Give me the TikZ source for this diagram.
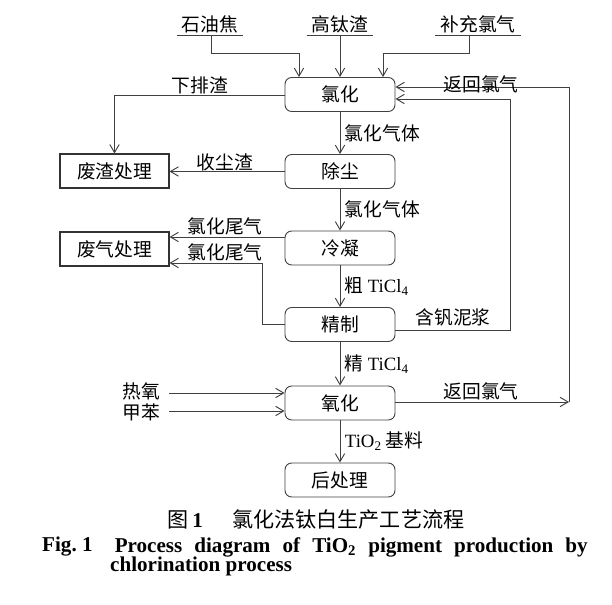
\documentclass[tikz,border=0pt]{standalone}
\usepackage{fontspec}
\setmainfont{Liberation Serif}
\newfontfamily\cjk{Noto Sans CJK SC}
\newcommand{\dazi}{\cjk\fontsize{16}{19}\selectfont}
\newcommand{\tizi}{\fontsize{18}{21}\selectfont}
\usetikzlibrary{arrows.meta,positioning,calc}
\tikzset{
  gongxu/.style={draw=black!75,line width=0.8pt,rounded corners=2mm,minimum width=33mm,
                 minimum height=10.2mm,inner sep=0pt,font=\dazi},
  chuli/.style={draw=black!80,line width=0.9pt,minimum width=32.7mm,minimum height=10.2mm,
                inner sep=0pt,font=\dazi},
  yuanliao/.style={inner xsep=1.5mm,inner ysep=0.6mm,font=\dazi},
  biaoqian/.style={inner sep=1pt,font=\dazi},
  xian/.style={draw=black!75,line width=0.8pt},
  jt/.style={xian,-{Straight Barb[length=2.4mm,width=2.8mm]}},
}

\begin{document}
\begin{tikzpicture}[x=0.3mm,y=-0.3mm]
  \useasboundingbox (0,0) rectangle (612,605);
  % raw materials
  \node[yuanliao,anchor=south] (syj) at (210,35) {石油焦};
  \node[yuanliao,anchor=south] (gtz) at (340,35) {高钛渣};
  \node[yuanliao,anchor=south] (bclq) at (478,35) {补充氯气};
  \foreach \n in {syj,gtz,bclq} \draw[xian] (\n.south west) -- (\n.south east);
  % process steps
  \node[gongxu] (lh) at (340,94.5) {氯化};
  \node[gongxu] (cc) at (340,171.5) {除尘};
  \node[gongxu] (ln) at (340,248) {冷凝};
  \node[gongxu] (jz) at (340,324.5) {精制};
  \node[gongxu] (yh) at (340,403) {氧化};
  \node[gongxu] (hcl) at (340,480) {后处理};
  \node[chuli] (fz) at (114.5,171) {废渣处理};
  \node[chuli] (fq) at (114.5,249) {废气处理};
  % feeds
  \draw[jt] ([xshift=0.3mm]syj.south) -- ++(0,18) -| ([xshift=-12.3mm]lh.north);
  \draw[jt] (gtz.south) -- (lh.north);
  \draw[jt] ([xshift=-2.7mm]bclq.south) -- ++(0,18) -| ([xshift=12.9mm]lh.north);
  % main line
  \draw[jt] (lh) -- node[biaoqian,right,xshift=1mm] (l-qt1) {氯化气体} (cc);
  \draw[jt] (cc) -- node[biaoqian,right,xshift=1mm] (l-qt2) {氯化气体} (ln);
  \draw[jt] (ln) -- node[biaoqian,right,xshift=1mm] (l-cu) {粗 {\rmfamily TiCl\textsubscript{4}}} (jz);
  \draw[jt] (jz) -- node[biaoqian,right,xshift=1mm] (l-jing) {精 {\rmfamily TiCl\textsubscript{4}}} (yh);
  \draw[jt] (yh) -- node[biaoqian,right,xshift=1mm] (l-jl) {{\rmfamily TiO\textsubscript{2}} 基料} (hcl);
  % waste
  \draw[jt] ([yshift=-0.15mm]lh.west) -| (fz.north);
  \node[biaoqian] (l-xpz) at (200,85) {下排渣};
  \draw[jt] (cc.west) -- (cc.west -| fz.east);
  \node[biaoqian] (l-scz) at (225,162) {收尘渣};
  \draw[jt] ([yshift=3.3mm]ln.west) -- ([yshift=3.3mm]ln.west -| fq.east);
  \node[biaoqian] (l-wq1) at (225,226) {氯化尾气};
  \draw[jt] (jz.west) -- ++(-22,0) |- ([yshift=-4.2mm]fq.east);
  \node[biaoqian] (l-wq2) at (225,252) {氯化尾气};
  % recycle
  \draw[jt] ([yshift=-1.7mm]jz.east) -- ++(115,0) |- ([yshift=-1.35mm]lh.east);
  \node[biaoqian] (l-fn) at (453,317) {含钒泥浆};
  \coordinate (hf) at (569,402);
  \draw[jt] (yh.east |- hf) -- (hf);
  \draw[jt] (hf) |- ([yshift=2.25mm]lh.east);
  \node[biaoqian] (l-fh1) at (481,84) {返回氯气};
  \node[biaoqian] (l-fh2) at (481,391) {返回氯气};
  % oxidation feeds
  \node[biaoqian] (ry) at (141,391) {热氧};
  \node[biaoqian] (jb) at (141,412) {甲苯};
  \draw[jt] (169,393) -- (yh.west |- 0,393);
  \draw[jt] (169,411) -- (yh.west |- 0,411);
  % caption
  \node[inner sep=0pt,font=\tizi] (tm-zh) at (316,520) {{\cjk 图}\,\textbf{1}\hspace{1.4em}{\cjk 氯化法钛白生产工艺流程}};
  \node[inner sep=0pt,font=\tizi\bfseries,anchor=west] (tm-en1) at (42,547) {Fig.~1};
  \node[inner sep=0pt,font=\tizi\bfseries,anchor=east] (tm-en2) at (588,547)
    {\makebox[141.9mm][s]{Process diagram of TiO\textsubscript{2} pigment production by}};
  \node[inner sep=0pt,font=\tizi\bfseries,anchor=west] (tm-en3) at (110,566) {chlorination process};
\end{tikzpicture}
\end{document}
